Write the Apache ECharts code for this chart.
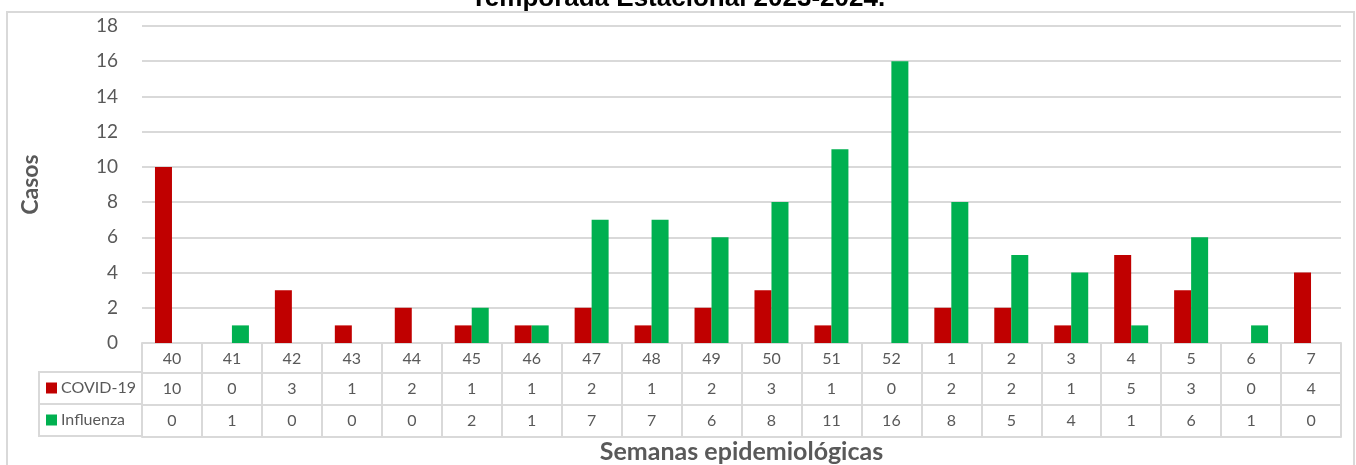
<!DOCTYPE html>
<html>
<head>
<meta charset="utf-8">
<script src="https://cdn.jsdelivr.net/npm/echarts@6/dist/echarts.min.js"></script>
<style>
  html, body { margin: 0; padding: 0; background: #fff; }
  #chart { width: 1356px; height: 465px; }
</style>
</head>
<body>
<div id="chart"></div>
<script>
// semanas epidemiológicas (40..52 de 2023, 1..7 de 2024)
const semanas = ['40', '41', '42', '43', '44', '45', '46', '47', '48', '49', '50', '51', '52', '1', '2', '3', '4', '5', '6', '7'];
const covid = [10, 0, 3, 1, 2, 1, 1, 2, 1, 2, 3, 1, 0, 2, 2, 1, 5, 3, 0, 4];
const influenza = [0, 1, 0, 0, 0, 2, 1, 7, 7, 6, 8, 11, 16, 8, 5, 4, 1, 6, 1, 0];
const yTicks = { min: 0, max: 18, interval: 2 };

const grayText = '#595959';
const lineGray = '#D9D9D9';
const font = 'Lato, "Open Sans", sans-serif';

const chart = echarts.init(document.getElementById('chart'));

// helper: one table row as a category axis
function rowAxis(offset, values, showTick, tickLen) {
    return {
        type: 'category',
        data: semanas,
        position: 'bottom',
        offset: offset,
        axisLine: { show: true, lineStyle: { color: lineGray, width: 2 } },
        axisTick: { show: showTick, interval: 0, inside: false, length: tickLen, lineStyle: { color: lineGray, width: 2 } },
        axisLabel: {
            show: values !== null,
            interval: 0,
            margin: 8,
            color: grayText,
            fontSize: 16,
            fontFamily: font,
            formatter: (v, i) => values ? String(values[i]) : ''
        },
        splitLine: { show: false }
    };
}

const axes = [
    rowAxis(0, semanas, true, 30),
    rowAxis(30, covid, true, 32),
    rowAxis(62, influenza, true, 32),
    rowAxis(94, null, false, 0)
];
axes[3].name = 'Semanas epidemiológicas';
axes[3].nameLocation = 'middle';
axes[3].nameGap = 2;
axes[3].nameTextStyle = { color: grayText, fontSize: 25, fontWeight: 'bold', fontFamily: font, verticalAlign: 'top' };

chart.setOption({
    animation: false,
    title: {
        text: 'Temporada Estacional 2023-2024.',
        left: 'center',
        top: -19,
        textStyle: { color: '#000', fontSize: 26, fontWeight: 'bold', fontFamily: 'Liberation Sans, Arial, sans-serif' }
    },
    legend: {
        orient: 'vertical',
        left: 46,
        top: 380,
        padding: 0,
        itemWidth: 11,
        itemHeight: 11,
        itemGap: 16,
        icon: 'rect',
        textStyle: { color: grayText, fontSize: 16, fontFamily: font, lineHeight: 16, padding: [0, 0, 0, -1] },
        data: ['COVID-19', 'Influenza']
    },
    graphic: [
        { type: 'rect', shape: { x: 7, y: 12, width: 1347, height: 470 }, style: { fill: 'none', stroke: lineGray, lineWidth: 2 }, silent: true },
        { type: 'polyline', shape: { points: [[142, 372], [39, 372], [39, 436], [142, 436]] }, style: { fill: 'none', stroke: lineGray, lineWidth: 2 }, silent: true },
        { type: 'line', shape: { x1: 39, y1: 404, x2: 142, y2: 404 }, style: { stroke: lineGray, lineWidth: 2 }, silent: true }
    ],
    grid: { left: 142, right: 15, top: 26, bottom: 122, containLabel: false, outerBoundsMode: 'none' },
    xAxis: axes,
    yAxis: {
        type: 'value',
        min: yTicks.min,
        max: yTicks.max,
        interval: yTicks.interval,
        name: 'Casos',
        nameLocation: 'middle',
        nameGap: 100,
        nameTextStyle: { color: grayText, fontSize: 23, fontWeight: 'bold', fontFamily: font },
        axisLine: { show: false },
        axisTick: { show: false },
        axisLabel: { color: grayText, fontSize: 19, fontFamily: font, margin: 24 },
        splitLine: { lineStyle: { color: lineGray, width: 2 } }
    },
    series: [
        { name: 'COVID-19', type: 'bar', xAxisIndex: 0, data: covid, barWidth: 17, barGap: '0%', itemStyle: { color: '#C00000' } },
        { name: 'Influenza', type: 'bar', xAxisIndex: 0, data: influenza, barWidth: 17, barGap: '0%', itemStyle: { color: '#00B050' } }
    ]
});
</script>
</body>
</html>
